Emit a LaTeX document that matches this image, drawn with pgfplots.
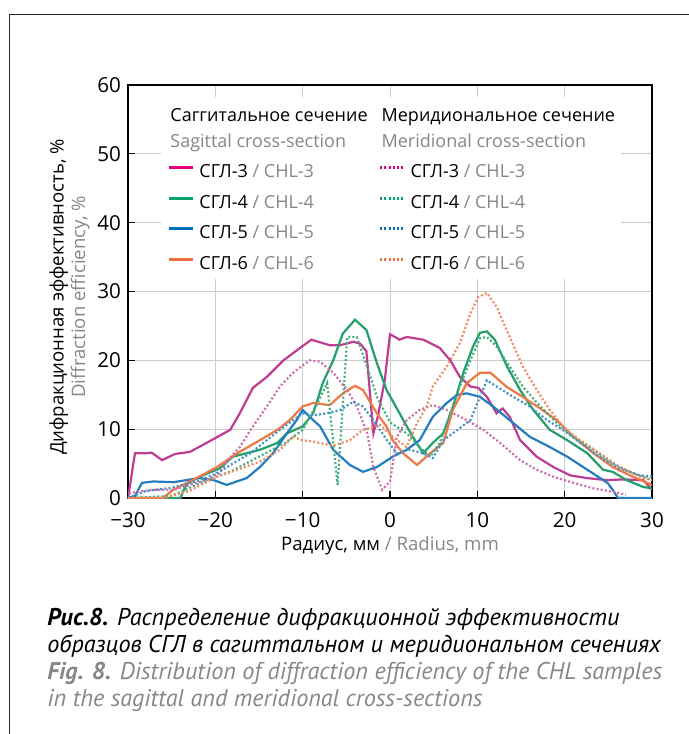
\documentclass[border=0pt]{standalone}
\usepackage{fontspec}
\setmainfont{Open Sans}
\newfontfamily\capfont{PT Sans}
\usepackage{pgfplots}
\pgfplotsset{compat=1.18}
\definecolor{cmag}{RGB}{228,0,126}
\definecolor{cgreen}{RGB}{0,165,110}
\definecolor{cblue}{RGB}{0,110,190}
\definecolor{corange}{RGB}{240,110,65}
\definecolor{pmag}{RGB}{190,60,145}
\definecolor{pgreen}{RGB}{35,160,105}
\definecolor{pblue}{RGB}{35,125,190}
\definecolor{porange}{RGB}{238,120,70}
\definecolor{txtgray}{RGB}{135,135,135}
\tikzset{mdot/.style={dash pattern=on 1pt off 1.1pt}}
\begin{document}
\begin{tikzpicture}
\path[use as bounding box] (0,0) rectangle (344.5pt,-367pt);
\draw[line width=0.5pt, black!85] (4.5pt,-367pt) -- (4.5pt,-7pt) -- (344.5pt,-7pt);
\begin{axis}[
  at={(64pt,-249pt)}, anchor=south west,
  scale only axis, width=262pt, height=206.5pt,
  xmin=-30, xmax=30, ymin=0, ymax=60,
  xtick={-30,-20,...,30}, xticklabels={−30,−20,−10,0,10,20,30},
  ytick={0,10,...,60},
  xtick pos=bottom, ytick pos=left,
  grid=major, grid style={draw=gray!40, line width=0.4pt},
  tick align=inside, major tick length=3.5pt,
  tick style={black, line width=0.6pt},
  axis line style={black, line width=0.7pt},
  ticklabel style={font=\fontsize{10.3}{12}\selectfont},
  xticklabel style={yshift=-3.5pt},
  /pgf/number format/assume math mode=true,
  xlabel={Радиус, мм \textcolor{txtgray}{/ Radius, mm}},
  xlabel style={font=\fontsize{9.3}{11}\selectfont, at={(axis description cs:0.5,-0.126)}, anchor=base, inner sep=0pt},
  ylabel={Дифракционная эффективность, \%\\\textcolor{txtgray}{Diffraction efficiency, \%}},
  ylabel style={font=\fontsize{9.3}{10.8}\selectfont, align=center, at={(axis description cs:-0.0725,0.487)}, anchor=south, inner sep=0pt},
  legend columns=2,
  legend cell align=left,
  legend style={at={(axis description cs:0.063,0.973)}, anchor=north west, draw=none, fill=white, inner sep=3pt,
    font=\fontsize{9}{11}\selectfont,
    nodes={inner xsep=0pt, inner ysep=0pt, text height=7pt, text depth=2pt},
    /tikz/column sep=2.5pt, /tikz/row sep=6.25pt,
    /tikz/every even column/.append style={column sep=5.5pt}},
  legend image code/.code={\draw[#1, line width=1.5pt] (0pt,2.5pt) -- (12pt,2.5pt);},
]
\addplot[pmag, line width=1.1pt, forget plot] coordinates {(-30,0) (-29.2,6.5) (-28,6.5) (-27.3,6.6) (-26.1,5.5) (-24.6,6.4) (-22.9,6.7) (-20,8.7) (-18.3,9.9) (-17.2,12.3) (-15.7,16) (-14.1,17.6) (-12.2,20) (-10.3,21.8) (-9,23) (-6.9,22.2) (-5.7,22.2) (-4.2,22.7) (-3.4,22.4) (-2.7,21.3) (-1.9,9.4) (-1.4,11.8) (-0.6,17.1) (0,23.8) (1.1,23) (1.9,23.4) (3.8,23) (5.7,21.8) (6.9,20) (8,17.6) (9.2,16.2) (10.1,16) (11.1,14.7) (12.2,12.3) (12.9,13) (13.7,11.8) (14.9,8.4) (16.8,6) (18.7,4.5) (20.6,3.3) (22.5,2.9) (24.8,2.6) (26.7,2.7) (29,2.6) (30,1.2)};
\addplot[pgreen, line width=1.1pt, forget plot] coordinates {(-30,0) (-24,0) (-23.3,2) (-21.8,3.1) (-19.5,4.3) (-18,6) (-14.9,7) (-12.9,8) (-11.8,9.4) (-10,10.4) (-8.8,12.3) (-7.7,16.7) (-6.5,20) (-5.4,23.9) (-4,25.9) (-2.7,24.4) (-1.5,19.6) (-0.4,15.7) (1.1,12.3) (1.7,10.9) (2.6,8.9) (3.8,6.5) (4.9,8) (6.1,9.4) (7.2,13.2) (8.4,18.2) (9.5,22) (10.3,24) (11.1,24.2) (12,23) (13.4,19.1) (14.9,15.7) (16.4,12.8) (18.3,9.9) (20.3,8.4) (22.6,6.5) (24.4,4.1) (25.5,3.8) (27.1,2.6) (29,1.6) (30,1.4)};
\addplot[pblue, line width=1.1pt, forget plot] coordinates {(-30,0) (-29.2,0.3) (-28.4,2.2) (-27.1,2.4) (-24.8,2.3) (-23.3,2.6) (-21.8,2.9) (-20.2,2.6) (-18.7,1.9) (-16.4,2.9) (-14.9,4.5) (-13.4,6.5) (-11.8,9.4) (-10.7,11.3) (-10,12.8) (-9.2,11.8) (-8,10.4) (-6.5,7) (-4.6,4.8) (-3.1,3.8) (-1.5,4.5) (0.3,6) (1.9,7) (3.4,8.4) (4.9,11.8) (6.5,13.8) (7.7,15) (8.8,15.2) (10.3,14.7) (11.8,13.3) (14.1,10.9) (16,8.9) (18.3,7.4) (20.3,6) (22.6,4.1) (24.9,2.2) (25.5,1.2) (26.1,0) (30,0)};
\addplot[porange, line width=1.1pt, forget plot] coordinates {(-30,0) (-26,0) (-24.8,1.2) (-22.6,2.6) (-19.8,4.5) (-17.5,6.5) (-14.9,8.4) (-12.9,9.9) (-11.5,11.3) (-10,13.3) (-8.8,13.8) (-6.9,13.5) (-5.4,15.2) (-4,16.3) (-3.1,15.7) (-1.5,12.3) (-0.4,10.4) (0.3,8.4) (1.5,6.5) (3.1,4.8) (4.6,6.5) (6.1,8) (7.2,12.8) (8.8,16.7) (10.3,18.2) (11.5,18.2) (13.4,16.1) (15.2,14.7) (17.2,13) (19.1,11.3) (21,8.9) (23.3,6.5) (25.5,4.5) (27.8,3.1) (30,1.9)};
\addplot[pmag!75, line width=1.1pt, mdot, forget plot] coordinates {(-30,0) (-29.8,0.7) (-29,0.9) (-27.1,1.2) (-24.8,1.2) (-22.9,1.9) (-21,2.6) (-19.5,3.6) (-18.7,5.3) (-17.2,7.4) (-15.7,10.4) (-14.1,13.3) (-12.6,16.2) (-11.1,18.2) (-9.2,20) (-8,19.8) (-6.5,18.2) (-4.9,15.7) (-3.8,13.3) (-2.6,9.4) (-1.9,4.5) (-0.9,1.2) (0,2.4) (0.8,8.9) (1.9,11.3) (3.4,12.8) (4.9,13.5) (6.5,12.8) (8.8,11.3) (10.7,9.9) (12.6,8) (14.9,5.5) (16.8,4.1) (18.7,3.1) (21,2.2) (23.3,1.4) (25.5,0.9) (27,0.5)};
\addplot[pgreen!85, line width=1.1pt, mdot, forget plot] coordinates {(-30,0) (-25,0.3) (-22,2) (-18,4) (-15,6) (-12,8) (-10,9.9) (-8.4,13.5) (-7.2,16.7) (-6,1.9) (-4.9,23.4) (-3.8,23.4) (-2.6,19) (-1.5,14.7) (0,11) (1.9,9.4) (3.4,7.4) (4.6,6) (5.7,8) (6.9,12.3) (8,16.2) (9.2,20) (10.3,23.2) (11.1,23.4) (12.2,22) (13.7,19.1) (15.2,16.2) (17.2,13.3) (19.1,10.9) (21,8.9) (23.3,7) (25.5,5) (27.8,3.6) (30,2.6)};
\addplot[pblue!85, line width=1.1pt, mdot, forget plot] coordinates {(-30,0) (-28,1) (-25,1.5) (-22,2.5) (-20,3.5) (-18,5) (-16,6.5) (-14,8.5) (-12.6,9.9) (-11.1,11.3) (-10,12.3) (-8.8,12) (-7.2,12.3) (-5.7,12.8) (-4.2,14) (-3.1,13.3) (-1.9,11.3) (-0.4,8.5) (0.8,6.5) (2.3,7) (3.8,6.5) (4.9,5.8) (6.1,8.4) (7.2,9.4) (9.2,11.3) (10.3,14.7) (11.1,17.1) (12.2,16.2) (14.1,14.7) (16,13.3) (18,11.3) (19.8,9.9) (21.8,8) (24,6) (26.3,4.3) (28.6,3.3) (30,3.1)};
\addplot[porange!85, line width=1.1pt, mdot, forget plot] coordinates {(-30,0) (-26,0) (-23,1) (-19.8,3.1) (-17.5,4.1) (-14.9,5.3) (-12.6,7) (-11.1,8.9) (-10.1,8.4) (-8.8,8.2) (-6.5,7.6) (-4.6,8.4) (-3.1,9.9) (-1.1,10.6) (0.3,8.9) (1.9,7.4) (3.1,10.9) (4.2,13.3) (4.9,16.2) (6.5,19.1) (8,22.5) (9.2,26.8) (10.1,29.2) (11.1,29.8) (12.2,27.8) (13.7,23.4) (15.2,19.1) (16.8,15.7) (18.3,12.8) (20,10.1) (21.8,8.4) (24,6.5) (26.3,4.5) (28.6,3.1) (30,2.6)};
\addlegendimage{empty legend}
\addlegendentry{\raisebox{-2.5pt}{\hspace*{-14.5pt}Саггитальное сечение}}
\addlegendimage{empty legend}
\addlegendentry{\raisebox{-2.5pt}{\hspace*{-14.5pt}Меридиональное сечение}}
\addlegendimage{empty legend}
\addlegendentry{\hspace*{-14.5pt}\textcolor{txtgray}{Sagittal cross-section}}
\addlegendimage{empty legend}
\addlegendentry{\hspace*{-14.5pt}\textcolor{txtgray}{Meridional cross-section}}
\addlegendimage{cmag}
\addlegendentry{СГЛ-3 \textcolor{txtgray}{/ CHL-3}}
\addlegendimage{cmag, mdot}
\addlegendentry{СГЛ-3 \textcolor{txtgray}{/ CHL-3}}
\addlegendimage{cgreen}
\addlegendentry{СГЛ-4 \textcolor{txtgray}{/ CHL-4}}
\addlegendimage{cgreen, mdot}
\addlegendentry{СГЛ-4 \textcolor{txtgray}{/ CHL-4}}
\addlegendimage{cblue}
\addlegendentry{СГЛ-5 \textcolor{txtgray}{/ CHL-5}}
\addlegendimage{cblue, mdot}
\addlegendentry{СГЛ-5 \textcolor{txtgray}{/ CHL-5}}
\addlegendimage{corange}
\addlegendentry{СГЛ-6 \textcolor{txtgray}{/ CHL-6}}
\addlegendimage{corange, mdot}
\addlegendentry{СГЛ-6 \textcolor{txtgray}{/ CHL-6}}
\end{axis}
\begin{scope}[every node/.style={anchor=base west, inner sep=0pt, font=\capfont\itshape\fontsize{12.1}{13.5}\selectfont}]
\node at (23.5pt,-312.5pt) {\textbf{Рис.8.} Распределение дифракционной эффективности};
\node at (23.5pt,-326pt) {образцов СГЛ в сагиттальном и меридиональном сечениях};
\node[text=txtgray] at (23.5pt,-339.5pt) {\textbf{Fig. 8.} Distribution of diffraction efficiency of the CHL samples};
\node[text=txtgray] at (23.5pt,-353pt) {in the sagittal and meridional cross-sections};
\end{scope}
\end{tikzpicture}
\end{document}
